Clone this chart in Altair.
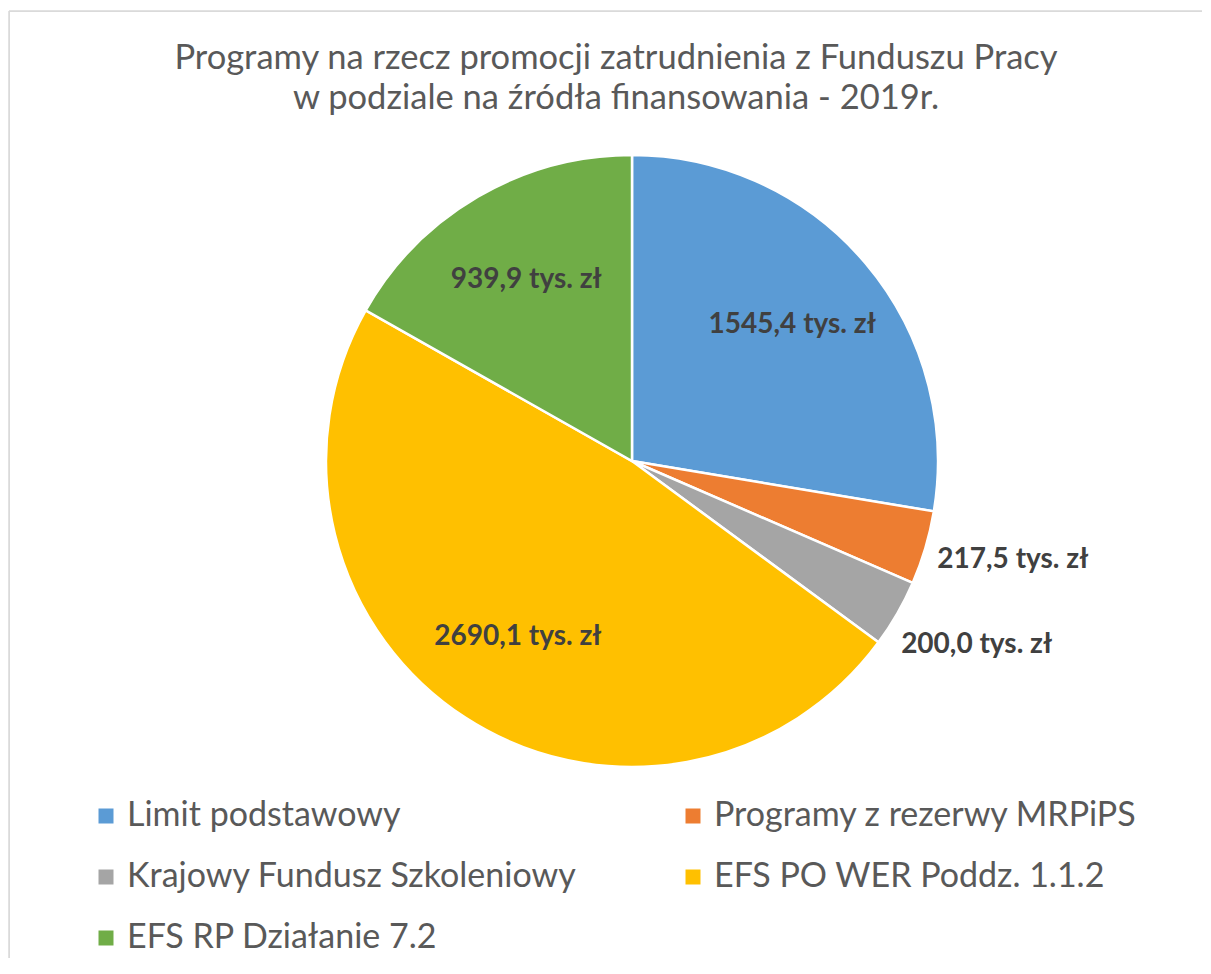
import altair as alt
import pandas as pd

categories = [
    "Limit podstawowy",
    "Programy z rezerwy MRPiPS",
    "Krajowy Fundusz Szkoleniowy",
    "EFS PO WER Poddz. 1.1.2",
    "EFS RP Działanie 7.2",
]
values = [1545.4, 217.5, 200.0, 2690.1, 939.9]
labels = ["1545,4 tys. zł", "217,5 tys. zł", "200,0 tys. zł", "2690,1 tys. zł", "939,9 tys. zł"]
colors = ["#5B9BD5", "#ED7D31", "#A5A5A5", "#FFC000", "#70AD47"]

df = pd.DataFrame({
    "idx": list(range(len(categories))),
    "category": categories,
    "value": values,
    "label": labels,
})

W, H = 1193, 947
FONT = "Lato"
CX, CY = 623, 450
R = 306

base = alt.Chart(df)

pie = base.mark_arc(outerRadius=R, x=CX, y=CY, stroke="white", strokeWidth=2.5).encode(
    theta=alt.Theta("value:Q", stack=True),
    order=alt.Order("idx:Q"),
    color=alt.Color(
        "category:N",
        scale=alt.Scale(domain=categories, range=colors),
        sort=categories,
        legend=alt.Legend(
            title=None,
            orient="none",
            direction="horizontal",
            legendX=80,
            legendY=788,
            columns=2,
            padding=0,
            symbolType="square",
            symbolSize=225,
            symbolStrokeWidth=0,
            labelFontSize=34,
            labelFont=FONT,
            labelColor="#595959",
            labelOffset=4,
            columnPadding=99,
            rowPadding=27,
            labelLimit=600,
        ),
    ),
)

text_base = base.transform_window(
    cum="sum(value)", sort=[alt.SortField("idx")], frame=[None, 0]
).transform_joinaggregate(
    total="sum(value)"
).transform_calculate(
    mid="(datum.cum - datum.value / 2) / datum.total * 2 * PI"
)

inside = text_base.transform_filter("datum.value / datum.total >= 0.1").mark_text(
    radius=210, x=CX, y=CY, font=FONT, fontSize=28, fontWeight="bold", color="#404040"
).encode(
    theta=alt.Theta("mid:Q", scale=None, stack=False),
    text="label:N",
)

outside = text_base.transform_filter("datum.value / datum.total < 0.1").mark_text(
    radius=393, x=CX, y=CY, dx=4, dy=-12, font=FONT, fontSize=28, fontWeight="bold", color="#404040"
).encode(
    theta=alt.Theta("mid:Q", scale=None, stack=False),
    text="label:N",
)

frame_data = alt.Data(values=[{"a": 1}])
left_border = alt.Chart(frame_data).mark_rule(color="#D9D9D9", strokeWidth=1.5).encode(
    x=alt.value(0), y=alt.value(0), y2=alt.value(H)
)
top_border = alt.Chart(frame_data).mark_rule(color="#D9D9D9", strokeWidth=1.5).encode(
    x=alt.value(0), x2=alt.value(W), y=alt.value(0)
)

chart = alt.layer(left_border, top_border, pie, inside, outside).properties(
    width=W,
    height=H,
    autosize=alt.AutoSizeParams(type="none"),
    padding={"top": 3, "left": 1, "right": 0, "bottom": 0},
    title=alt.TitleParams(
        text=[
            "Programy na rzecz promocji zatrudnienia z Funduszu Pracy",
            "w podziale na źródła finansowania - 2019r.",
        ],
        font=FONT,
        fontSize=34.5,
        fontWeight="normal",
        color="#595959",
        anchor="middle",
        frame="group",
        dx=10.5,
        lineHeight=40,
        offset=-106,
    ),
).configure_view(stroke=None).configure(background="white")

chart.save("out.html", embed_options={"renderer": "svg", "actions": False})
